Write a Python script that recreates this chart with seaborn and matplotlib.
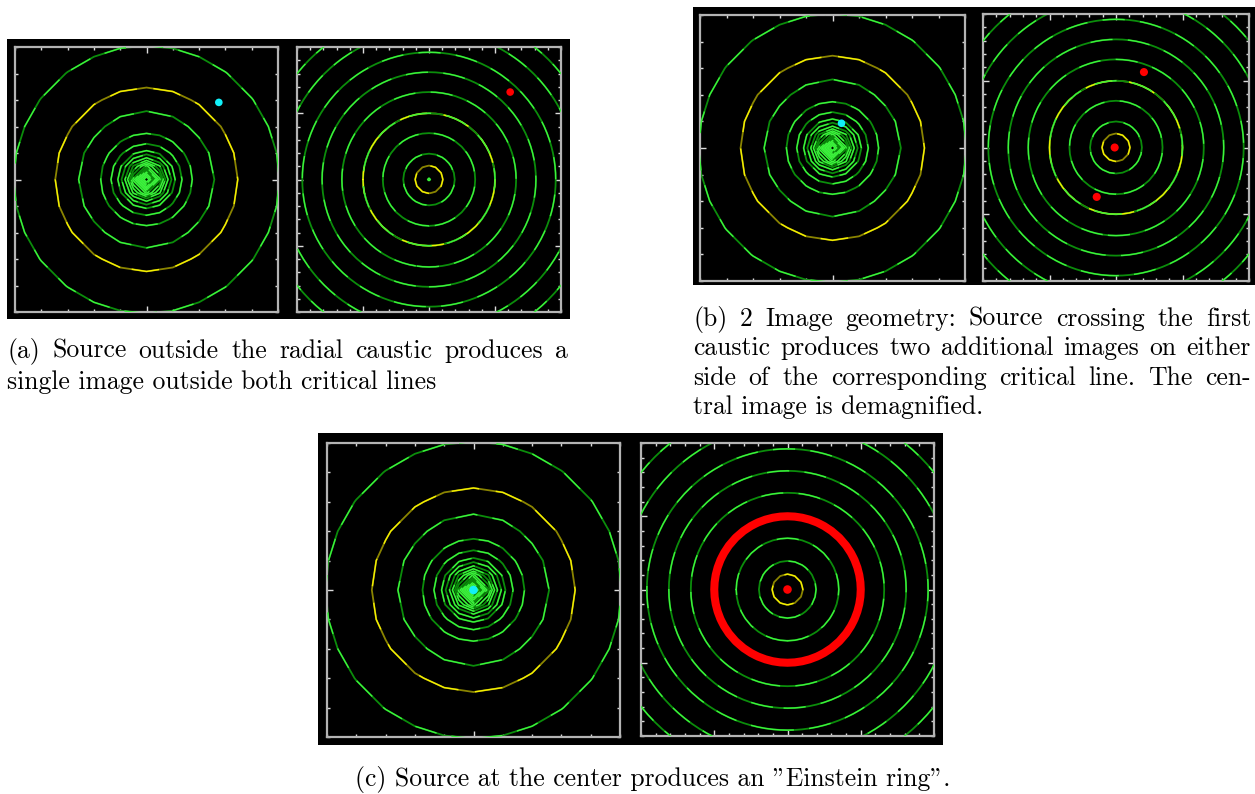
import numpy as np
import matplotlib
matplotlib.use("Agg")
import matplotlib.pyplot as plt
from matplotlib.patches import Rectangle
from matplotlib.ticker import FixedLocator, MultipleLocator
import seaborn as sns

# ---------------------------------------------------------------- data
# Source plane: inner contour radii, outer contour radii (green)
# and the radial caustic (yellow)
source_inner_levels = [0.10, 0.16, 0.22, 0.28, 0.34, 0.40, 0.46, 0.52, 0.58,
                       0.64, 0.72, 0.82, 0.95, 1.09, 1.35, 1.74]
source_outer_levels = [2.58, 5.05]
caustic_levels = [3.47]

# Image plane: contour radii (green) and the two critical lines (yellow)
image_levels = [0.02, 0.39, 0.70, 1.00, 1.32, 1.62, 1.92, 2.25, 2.56, 2.86]
critical_levels = [0.21, 1.00]

# Source positions (source plane) and resulting images (image plane)
src_a_x, src_a_y = [2.75], [2.91]
img_a_x, img_a_y = [1.23], [1.32]
src_b_x, src_b_y = [0.34], [0.93]
img_b_x, img_b_y = [0.42, -0.02, -0.29], [1.13, 0.00, -0.74]
src_c_x, src_c_y = [0.0], [0.0]
img_c_x, img_c_y = [0.0], [0.0]
einstein_radius = [1.00]

caption_a = ["(a) Source outside the radial caustic produces a",
             "single image outside both critical lines"]
caption_b = ["(b) 2 Image geometry: Source crossing the first",
             "caustic produces two additional images on either",
             "side of the corresponding critical line.  The cen-",
             "tral image is demagnified."]
caption_c = ['(c) Source at the center produces an "Einstein ring".']

# ---------------------------------------------------------------- style
W, H = 1255, 794
sns.set_style("white")
SERIF = ["cmr10", "DejaVu Serif"]
plt.rcParams["axes.unicode_minus"] = False

GREEN_DARK, GREEN_BRIGHT = "#0b8c0b", "#3df23d"
YELLOW_DARK, YELLOW_BRIGHT = "#8a8400", "#f4f000"
FRAME = "#b4b4b4"
TICK = "#dcdcdc"
GREEN_DASH = (0, (16, 11))
YELLOW_DASH = (0, (20, 12))

fig = plt.figure(figsize=(W / 100, H / 100), dpi=100, facecolor="white")


def fig_box(x0, y0, x1, y1):
    return [x0 / W, 1 - y1 / H, (x1 - x0) / W, (y1 - y0) / H]


def black_panel(x0, y0, x1, y1):
    b = fig_box(x0, y0, x1, y1)
    fig.add_artist(Rectangle((b[0], b[1]), b[2], b[3], transform=fig.transFigure,
                             facecolor="black", edgecolor="none", zorder=0))


def frame(ax, lim, major, minor_step):
    ax.set_facecolor("black")
    ax.set_xlim(-lim, lim)
    ax.set_ylim(-lim, lim)
    for axis in (ax.xaxis, ax.yaxis):
        axis.set_major_locator(FixedLocator(major))
        axis.set_minor_locator(MultipleLocator(minor_step))
    ax.tick_params(which="both", direction="in", top=True, right=True,
                   bottom=True, left=True, color=TICK, width=1.0,
                   labelbottom=False, labelleft=False)
    ax.tick_params(which="major", length=4.6)
    ax.tick_params(which="minor", length=2.3)
    for s in ax.spines.values():
        s.set_color(FRAME)
        s.set_linewidth(1.6)
    ax.set_xlabel("")
    ax.set_ylabel("")


def rings(ax, X, Y, R, levels, dark, bright, dash):
    ax.contour(X, Y, R, levels=levels, colors=[dark], linewidths=1.3, zorder=2)
    cs = ax.contour(X, Y, R, levels=levels, colors=[bright], linewidths=1.0, zorder=3)
    cs.set_linestyle(dash)


def radial_grid(lim, step):
    g = np.arange(-lim, lim + step / 2, step)
    X, Y = np.meshgrid(g, g)
    return X, Y, np.hypot(X, Y)


# source plane sampled on two coarse meshes, image plane on a fine one
XS, YS, RS = radial_grid(6.0, 0.5)
XC, YC, RC = radial_grid(7.0, 1.0)
XI, YI, RI = radial_grid(3.0, 0.1)


def source_panel(box, sx, sy, size):
    ax = fig.add_axes(fig_box(*box))
    rings(ax, XS, YS, RS, source_inner_levels, GREEN_DARK, GREEN_BRIGHT, GREEN_DASH)
    rings(ax, XC, YC, RC, source_outer_levels, GREEN_DARK, GREEN_BRIGHT, GREEN_DASH)
    rings(ax, XC, YC, RC, caustic_levels, YELLOW_DARK, YELLOW_BRIGHT, YELLOW_DASH)
    sns.scatterplot(x=sx, y=sy, ax=ax, color="#12f0f8", s=size,
                    edgecolor="none", zorder=6, legend=False)
    frame(ax, 5, [0], 1.0)
    return ax


def image_panel(box, ix, iy, size, ring=None):
    ax = fig.add_axes(fig_box(*box))
    rings(ax, XI, YI, RI, critical_levels, YELLOW_DARK, YELLOW_BRIGHT, YELLOW_DASH)
    rings(ax, XI, YI, RI, image_levels, GREEN_DARK, GREEN_BRIGHT, GREEN_DASH)
    if ring is not None:
        ax.contour(XI, YI, RI, levels=ring, colors=["#ff0000"],
                   linewidths=5.8, zorder=5)
    sns.scatterplot(x=ix, y=iy, ax=ax, color="#ff0000", s=size,
                    edgecolor="none", zorder=6, legend=False)
    frame(ax, 2, [-1, 0, 1], 0.2)
    return ax


# (a) source outside the radial caustic
black_panel(7, 39, 570, 319)
source_panel((15, 47, 278, 312), src_a_x, src_a_y, 30)
image_panel((297, 47, 561, 312), img_a_x, img_a_y, 30)

# (b) source inside the first caustic
black_panel(693, 7, 1255, 285)
source_panel((700, 15, 965, 281), src_b_x, src_b_y, 30)
image_panel((983, 14, 1249, 281), img_b_x, img_b_y, 34)

# (c) source at the centre -> Einstein ring
black_panel(318, 433, 943, 745)
source_panel((327, 443, 620, 737), src_c_x, src_c_y, 38)
image_panel((641, 443, 934, 736), img_c_x, img_c_y, 38, ring=einstein_radius)

# ---------------------------------------------------------------- captions
renderer = fig.canvas.get_renderer()


def text_width(s, size):
    t = fig.text(0, 0, s, fontsize=size, family=SERIF)
    w = t.get_window_extent(renderer).width
    t.remove()
    return w


# one caption size for all three sub-figures
FS = 0.955 * 10 * 561 / text_width(caption_a[0], 10)


def put(x, y, s, ha="left"):
    fig.text(x / W, 1 - y / H, s, fontsize=FS, family=SERIF, ha=ha,
             va="baseline", color="black")


def justified(line, x0, x1, base):
    words = line.split()
    widths = [text_width(w, FS) for w in words]
    gap = (x1 - x0 - sum(widths)) / (len(words) - 1)
    x = x0
    for w, wd in zip(words, widths):
        put(x, base, w)
        x += wd + gap


def paragraph(lines, x0, x1, bases):
    for i, (line, base) in enumerate(zip(lines, bases)):
        if i < len(lines) - 1:
            justified(line, x0, x1, base)
        else:
            put(x0, base, line)


paragraph(caption_a, 7, 568, [358, 389])
paragraph(caption_b, 693, 1251, [326, 355, 385, 414])
put(653, 786, caption_c[0], ha="center")

fig.savefig("out.png", dpi=100, facecolor="white")
